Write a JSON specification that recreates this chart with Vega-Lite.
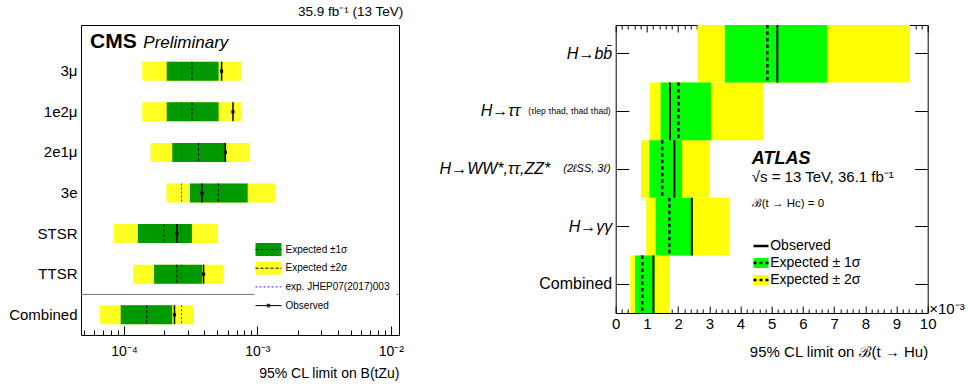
{
  "$schema": "https://vega.github.io/schema/vega-lite/v6.json",
  "autosize": {"type": "pad"},
  "padding": {"left": 8, "top": 4, "right": 0, "bottom": 0},
  "bounds": "flush",
  "spacing": 216.7,
  "resolve": {
    "scale": {"fill": "independent", "stroke": "independent", "shape": "independent"},
    "legend": {"fill": "independent", "stroke": "independent", "shape": "independent"}
  },
  "datasets": {
    "cms": [
      {"cat": "3μ", "lo2": 0.000137, "hi2": 0.000758, "lo1": 0.000209, "hi1": 0.000512, "exp": 0.000323, "obs": 0.000539, "prev": 0.00027},
      {"cat": "1e2μ", "lo2": 0.000137, "hi2": 0.000758, "lo1": 0.000209, "hi1": 0.000512, "exp": 0.000323, "obs": 0.000656, "prev": 0.00027},
      {"cat": "2e1μ", "lo2": 0.000158, "hi2": 0.000871, "lo1": 0.00023, "hi1": 0.000578, "exp": 0.000362, "obs": 0.000575, "prev": 0.00027},
      {"cat": "3e", "lo2": 0.000208, "hi2": 0.001365, "lo1": 0.000312, "hi1": 0.000846, "exp": 0.000509, "obs": 0.000384, "prev": 0.00027},
      {"cat": "STSR", "lo2": 0.0000836, "hi2": 0.0005, "lo1": 0.000127, "hi1": 0.000323, "exp": 0.000199, "obs": 0.000249, "prev": 0.00027},
      {"cat": "TTSR", "lo2": 0.000117, "hi2": 0.000552, "lo1": 0.000168, "hi1": 0.000386, "exp": 0.000249, "obs": 0.000395, "prev": 0.00027},
      {"cat": "Combined", "lo2": 0.0000656, "hi2": 0.000334, "lo1": 0.0000944, "hi1": 0.00023, "exp": 0.000148, "obs": 0.000239, "prev": 0.00027}
    ],
    "atlas": [
      {"cat": "H→bb\u0304", "lo2": 2.62, "lo1": 3.5, "exp": 4.86, "obs": 5.18, "hi1": 6.77, "hi2": 9.43},
      {"cat": "H→ττ", "lo2": 1.09, "lo1": 1.44, "exp": 2.01, "obs": 1.74, "hi1": 3.05, "hi2": 4.73},
      {"cat": "H→WW*,ττ,ZZ*", "lo2": 0.81, "lo1": 1.08, "exp": 1.49, "obs": 1.88, "hi1": 2.13, "hi2": 3.0},
      {"cat": "H→γγ", "lo2": 0.98, "lo1": 1.28, "exp": 1.72, "obs": 2.44, "hi1": 2.47, "hi2": 3.63},
      {"cat": "Combined", "lo2": 0.47, "lo1": 0.62, "exp": 0.85, "obs": 1.21, "hi1": 1.24, "hi2": 1.71}
    ]
  },
  "hconcat": [
    {
      "width": 318,
      "height": 310,
      "title": {"text": "35.9 fb⁻¹ (13 TeV)", "anchor": "end", "fontSize": 13.5, "fontWeight": "normal", "offset": 7, "color": "black", "font": "Liberation Sans"},
      "resolve": {"axis": {"x": "independent", "y": "independent"}},
      "layer": [
        {
          "data": {"name": "cms"},
          "mark": {"type": "bar", "color": "#ffff22", "height": {"band": 0.468}},
          "encoding": {
            "x": {"field": "lo2", "type": "quantitative",
              "scale": {"type": "log", "domain": [0.00004757, 0.01153], "nice": false},
              "axis": {"orient": "bottom", "title": "95% CL limit on B(tZu)", "titleAnchor": "end", "titleFontSize": 14, "titlePadding": 4,
                "values": [0.00005, 0.00006, 0.00007, 0.00008, 0.00009, 0.0001, 0.0002, 0.0003, 0.0004, 0.0005, 0.0006, 0.0007, 0.0008, 0.0009, 0.001, 0.002, 0.003, 0.004, 0.005, 0.006, 0.007, 0.008, 0.009, 0.01],
                "labelExpr": "datum.value == 0.0001 ? '10⁻⁴' : datum.value == 0.001 ? '10⁻³' : datum.value == 0.01 ? '10⁻²' : ''",
                "tickSize": {"condition": {"test": "datum.value == 0.0001 || datum.value == 0.001 || datum.value == 0.01", "value": -9}, "value": -5},
                "labelPadding": 18, "labelFontSize": 14}},
            "x2": {"field": "hi2"},
            "y": {"field": "cat", "type": "nominal",
              "scale": {"domain": ["3μ", "1e2μ", "2e1μ", "3e", "STSR", "TTSR", "Combined"], "paddingInner": 0, "paddingOuter": 0.32, "align": 1},
              "axis": {"orient": "left", "title": null, "ticks": false, "labelPadding": 4, "labelFontSize": 15}}
          }
        },
        {
          "data": {"name": "cms"},
          "mark": {"type": "bar", "color": "#009a00", "height": {"band": 0.468}},
          "encoding": {
            "x": {"field": "lo1", "type": "quantitative", "axis": null},
            "x2": {"field": "hi1"},
            "y": {"field": "cat", "type": "nominal", "axis": null}
          }
        },
        {
          "data": {"values": [{"cat": "Combined"}]},
          "mark": {"type": "rule", "color": "#777777", "strokeWidth": 1},
          "encoding": {
            "y": {"field": "cat", "type": "nominal", "bandPosition": 0, "axis": null}
          }
        },
        {
          "data": {"name": "cms"},
          "mark": {"type": "rule", "color": "#2b2bff", "strokeWidth": 1, "strokeDash": [2, 2]},
          "encoding": {
            "x": {"field": "prev", "type": "quantitative", "axis": null},
            "y": {"field": "cat", "type": "nominal", "bandPosition": 0.266, "axis": null},
            "y2": {"field": "cat", "bandPosition": 0.734}
          }
        },
        {
          "data": {"name": "cms"},
          "mark": {"type": "rule", "color": "black", "strokeWidth": 1, "strokeDash": [3, 2]},
          "encoding": {
            "x": {"field": "exp", "type": "quantitative", "axis": null},
            "y": {"field": "cat", "type": "nominal", "bandPosition": 0.266, "axis": null},
            "y2": {"field": "cat", "bandPosition": 0.734}
          }
        },
        {
          "data": {"name": "cms"},
          "mark": {"type": "rule", "color": "black", "strokeWidth": 1.5},
          "encoding": {
            "x": {"field": "obs", "type": "quantitative", "axis": null},
            "y": {"field": "cat", "type": "nominal", "bandPosition": 0.266, "axis": null},
            "y2": {"field": "cat", "bandPosition": 0.734}
          }
        },
        {
          "data": {"name": "cms"},
          "mark": {"type": "square", "color": "black", "filled": true, "size": 10, "opacity": 1},
          "encoding": {
            "x": {"field": "obs", "type": "quantitative", "axis": null},
            "y": {"field": "cat", "type": "nominal", "axis": null}
          }
        },
        {
          "data": {"values": [{"lg": "Expected ±1σ"}, {"lg": "Expected ±2σ"}, {"lg": "exp. JHEP07(2017)003"}, {"lg": "Observed"}]},
          "mark": {"type": "point", "filled": true, "opacity": 0},
          "encoding": {
            "fill": {"field": "lg", "type": "nominal",
              "scale": {"domain": ["Expected ±1σ", "Expected ±2σ", "exp. JHEP07(2017)003", "Observed"], "range": ["#009a00", "#ffff22", "transparent", "transparent"]},
              "legend": {"orient": "none", "legendX": 173.5, "legendY": 210.5, "padding": 7, "fillColor": "white", "title": null,
                "symbolType": "M-2,-1H2V1H-2Z", "symbolSize": 169, "symbolStrokeWidth": 1, "symbolStrokeColor": "transparent",
                "labelFontSize": 10, "labelOffset": 10, "rowPadding": 0.7, "labelLimit": 300, "labelColor": "black"}}
          }
        },
        {
          "data": {"values": [{"lg2": "a1"}, {"lg2": "a2"}, {"lg2": "a3"}, {"lg2": "a4"}]},
          "mark": {"type": "point", "filled": false, "opacity": 0, "strokeWidth": 1},
          "encoding": {
            "stroke": {"field": "lg2", "type": "nominal",
              "scale": {"domain": ["a1", "a2", "a3", "a4"], "range": ["black", "black", "#2b2bff", "black"]},
              "legend": {"orient": "none", "legendX": 173.5, "legendY": 210.5, "padding": 7, "title": null,
                "symbolSize": 169, "symbolStrokeWidth": 1, "labelFontSize": 10, "labelOffset": 10, "rowPadding": 0.7, "labelOpacity": 0, "labelExpr": "' '"}},
            "shape": {"field": "lg2", "type": "nominal",
              "scale": {"domain": ["a1", "a2", "a3", "a4"], "range": [
                "M-2,-1H-2M2,1H2M-2,0H-1.54M-1.23,0H-0.77M-0.46,0H0M0.31,0H0.77M1.08,0H1.54M1.85,0H2",
                "M-2,-1H-2M2,1H2M-2,0H-1.54M-1.23,0H-0.77M-0.46,0H0M0.31,0H0.77M1.08,0H1.54M1.85,0H2",
                "M-2,-1H-2M2,1H2M-2,0H-1.69M-1.38,0H-1.07M-0.76,0H-0.45M-0.14,0H0.17M0.48,0H0.79M1.1,0H1.41M1.72,0H2",
                "M-2,-1H-2M2,1H2M-2,0H2M-0.2,-0.2H0.2V0.2H-0.2Z"]},
              "legend": {"orient": "none", "legendX": 173.5, "legendY": 210.5, "padding": 7, "title": null,
                "symbolSize": 169, "symbolStrokeWidth": 1, "labelFontSize": 10, "labelOffset": 10, "rowPadding": 0.7, "labelOpacity": 0, "labelExpr": "' '"}}
          }
        },
        {
          "data": {"values": [{}]},
          "mark": {"type": "text", "text": "CMS", "fontSize": 21, "fontWeight": "bold", "align": "left", "baseline": "middle", "dy": -29, "color": "black", "font": "Liberation Sans"},
          "encoding": {
            "x": {"datum": 0.0000556, "type": "quantitative", "axis": null},
            "y": {"datum": "3μ", "type": "nominal", "axis": null}
          }
        },
        {
          "data": {"values": [{}]},
          "mark": {"type": "text", "text": "Preliminary", "fontSize": 17, "fontStyle": "italic", "align": "left", "baseline": "middle", "dy": -28, "color": "black", "font": "Liberation Sans"},
          "encoding": {
            "x": {"datum": 0.0001396, "type": "quantitative", "axis": null},
            "y": {"datum": "3μ", "type": "nominal", "axis": null}
          }
        }
      ]
    },
    {
      "width": 312,
      "height": 288,
      "resolve": {"axis": {"x": "independent", "y": "independent"}},
      "layer": [
        {
          "data": {"name": "atlas"},
          "mark": {"type": "bar", "color": "#ffff00"},
          "encoding": {
            "x": {"field": "lo2", "type": "quantitative",
              "scale": {"domain": [0, 10], "nice": false, "zero": false},
              "axis": {"orient": "bottom", "title": "95% CL limit on ℬ(t → Hu)", "titleAnchor": "end", "titleFontSize": 15, "titlePadding": 10,
                "values": [0, 0.2, 0.4, 0.6, 0.8, 1, 1.2, 1.4, 1.6, 1.8, 2, 2.2, 2.4, 2.6, 2.8, 3, 3.2, 3.4, 3.6, 3.8, 4, 4.2, 4.4, 4.6, 4.8, 5, 5.2, 5.4, 5.6, 5.8, 6, 6.2, 6.4, 6.6, 6.8, 7, 7.2, 7.4, 7.6, 7.8, 8, 8.2, 8.4, 8.6, 8.8, 9, 9.2, 9.4, 9.6, 9.8, 10],
                "labelExpr": "datum.value % 1 == 0 ? format(datum.value, 'd') : ''",
                "tickSize": {"condition": {"test": "datum.value % 1 == 0", "value": -7}, "value": -4},
                "labelPadding": 10, "labelFontSize": 15}},
            "x2": {"field": "hi2"},
            "y": {"field": "cat", "type": "nominal",
              "scale": {"domain": ["H→bb\u0304", "H→ττ", "H→WW*,ττ,ZZ*", "H→γγ", "Combined"], "paddingInner": 0, "paddingOuter": 0},
              "axis": {"orient": "left", "title": null, "tickSize": -13, "labelFontSize": 16,
                "labelFontStyle": {"condition": {"test": "datum.value == 'Combined'", "value": "normal"}, "value": "italic"},
                "labelPadding": {"condition": [{"test": "datum.value == 'H→ττ'", "value": 109}, {"test": "datum.value == 'H→WW*,ττ,ZZ*'", "value": 79}], "value": 17}}}
          }
        },
        {
          "data": {"name": "atlas"},
          "mark": {"type": "bar", "color": "#00ff00"},
          "encoding": {
            "x": {"field": "lo1", "type": "quantitative",
              "axis": {"orient": "top", "labels": false,
                "values": [0, 0.2, 0.4, 0.6, 0.8, 1, 1.2, 1.4, 1.6, 1.8, 2, 2.2, 2.4, 2.6, 2.8, 3, 3.2, 3.4, 3.6, 3.8, 4, 4.2, 4.4, 4.6, 4.8, 5, 5.2, 5.4, 5.6, 5.8, 6, 6.2, 6.4, 6.6, 6.8, 7, 7.2, 7.4, 7.6, 7.8, 8, 8.2, 8.4, 8.6, 8.8, 9, 9.2, 9.4, 9.6, 9.8, 10],
                "tickSize": {"condition": {"test": "datum.value % 1 == 0", "value": -7}, "value": -4},
                "title": "×10⁻³", "titleX": 313, "titleY": 288, "titleAlign": "left", "titleBaseline": "alphabetic", "titleFontSize": 15, "titleAngle": 0}},
            "x2": {"field": "hi1"},
            "y": {"field": "cat", "type": "nominal", "axis": {"orient": "right", "labels": false, "tickSize": -13, "title": null}}
          }
        },
        {
          "data": {"name": "atlas"},
          "mark": {"type": "rule", "color": "black", "strokeWidth": 2.5, "strokeDash": [3.5, 3]},
          "encoding": {
            "x": {"field": "exp", "type": "quantitative", "axis": null},
            "y": {"field": "cat", "type": "nominal", "bandPosition": 0,
              "axis": {"orient": "left", "title": null, "ticks": false, "labelPadding": 5.5,
                "labelFontSize": {"condition": {"test": "datum.value == 'H→ττ'", "value": 8.5}, "value": 11},
                "labelFontStyle": {"condition": {"test": "datum.value == 'H→ττ'", "value": "normal"}, "value": "italic"},
                "labelExpr": "datum.value == 'H→ττ' ? '(τlep τhad, τhad τhad)' : datum.value == 'H→WW*,ττ,ZZ*' ? '(2ℓSS, 3ℓ)' : ''"}},
            "y2": {"field": "cat", "bandPosition": 1}
          }
        },
        {
          "data": {"name": "atlas"},
          "mark": {"type": "rule", "color": "black", "strokeWidth": 2},
          "encoding": {
            "x": {"field": "obs", "type": "quantitative", "axis": null},
            "y": {"field": "cat", "type": "nominal", "bandPosition": 0, "axis": null},
            "y2": {"field": "cat", "bandPosition": 1}
          }
        },
        {
          "data": {"values": [{"lg": "Observed"}, {"lg": "Expected ± 1σ"}, {"lg": "Expected ± 2σ"}]},
          "mark": {"type": "point", "filled": true, "opacity": 0},
          "encoding": {
            "fill": {"field": "lg", "type": "nominal",
              "scale": {"domain": ["Observed", "Expected ± 1σ", "Expected ± 2σ"], "range": ["transparent", "#00ff00", "#ffff00"]},
              "legend": {"orient": "none", "legendX": 138.3, "legendY": 214, "padding": 0, "title": null,
                "symbolType": "M-1.5,-1H1.5V1H-1.5Z", "symbolSize": 100, "symbolStrokeWidth": 2.5, "symbolStrokeColor": "transparent",
                "labelFontSize": 14, "labelOffset": 2.2, "rowPadding": -4, "labelLimit": 300, "labelColor": "black"}}
          }
        },
        {
          "data": {"values": [{"lg2": "o"}, {"lg2": "e1"}, {"lg2": "e2"}]},
          "mark": {"type": "point", "filled": false, "opacity": 0, "strokeWidth": 2.5, "color": "black"},
          "encoding": {
            "shape": {"field": "lg2", "type": "nominal",
              "scale": {"domain": ["o", "e1", "e2"], "range": [
                "M-1.5,-1H-1.5M1.5,1H1.5M-1.5,0H1.5",
                "M-1.5,-1H-1.5M1.5,1H1.5M-1.5,0H-0.9M-0.3,0H0.3M0.9,0H1.5",
                "M-1.5,-1H-1.5M1.5,1H1.5M-1.5,0H-0.9M-0.3,0H0.3M0.9,0H1.5"]},
              "legend": {"orient": "none", "legendX": 138.3, "legendY": 214, "padding": 0, "title": null,
                "symbolSize": 100, "symbolStrokeWidth": 2.5, "symbolStrokeColor": "black",
                "labelFontSize": 14, "labelOffset": 2.2, "rowPadding": -4, "labelOpacity": 0, "labelExpr": "' '"}}
          }
        },
        {
          "data": {"values": [{}]},
          "mark": {"type": "text", "text": "ATLAS", "fontSize": 18, "fontWeight": "bold", "fontStyle": "italic", "align": "left", "baseline": "middle", "dy": -10.5, "color": "black", "font": "Liberation Sans"},
          "encoding": {
            "x": {"datum": 4.36, "type": "quantitative", "axis": null},
            "y": {"datum": "H→WW*,ττ,ZZ*", "type": "nominal", "axis": null}
          }
        },
        {
          "data": {"values": [{}]},
          "mark": {"type": "text", "text": "√s = 13 TeV, 36.1 fb⁻¹", "fontSize": 15, "align": "left", "baseline": "middle", "dy": 8, "color": "black", "font": "Liberation Sans"},
          "encoding": {
            "x": {"datum": 4.36, "type": "quantitative", "axis": null},
            "y": {"datum": "H→WW*,ττ,ZZ*", "type": "nominal", "axis": null}
          }
        },
        {
          "data": {"values": [{}]},
          "mark": {"type": "text", "text": "ℬ(t → Hc) = 0", "fontSize": 11.5, "align": "left", "baseline": "middle", "dy": 35, "color": "black", "font": "Liberation Sans"},
          "encoding": {
            "x": {"datum": 4.36, "type": "quantitative", "axis": null},
            "y": {"datum": "H→WW*,ττ,ZZ*", "type": "nominal", "axis": null}
          }
        }
      ]
    }
  ],
  "config": {
    "font": "Liberation Sans",
    "view": {"stroke": "black", "strokeWidth": 1},
    "axis": {"domain": false, "grid": false, "tickColor": "black", "tickWidth": 1, "labelColor": "black", "titleColor": "black",
      "titleFontWeight": "normal", "labelFont": "Liberation Sans", "titleFont": "Liberation Sans",
      "labelFlush": false, "labelOverlap": false, "labelBound": false},
    "legend": {"labelFont": "Liberation Sans", "labelColor": "black"}
  }
}
